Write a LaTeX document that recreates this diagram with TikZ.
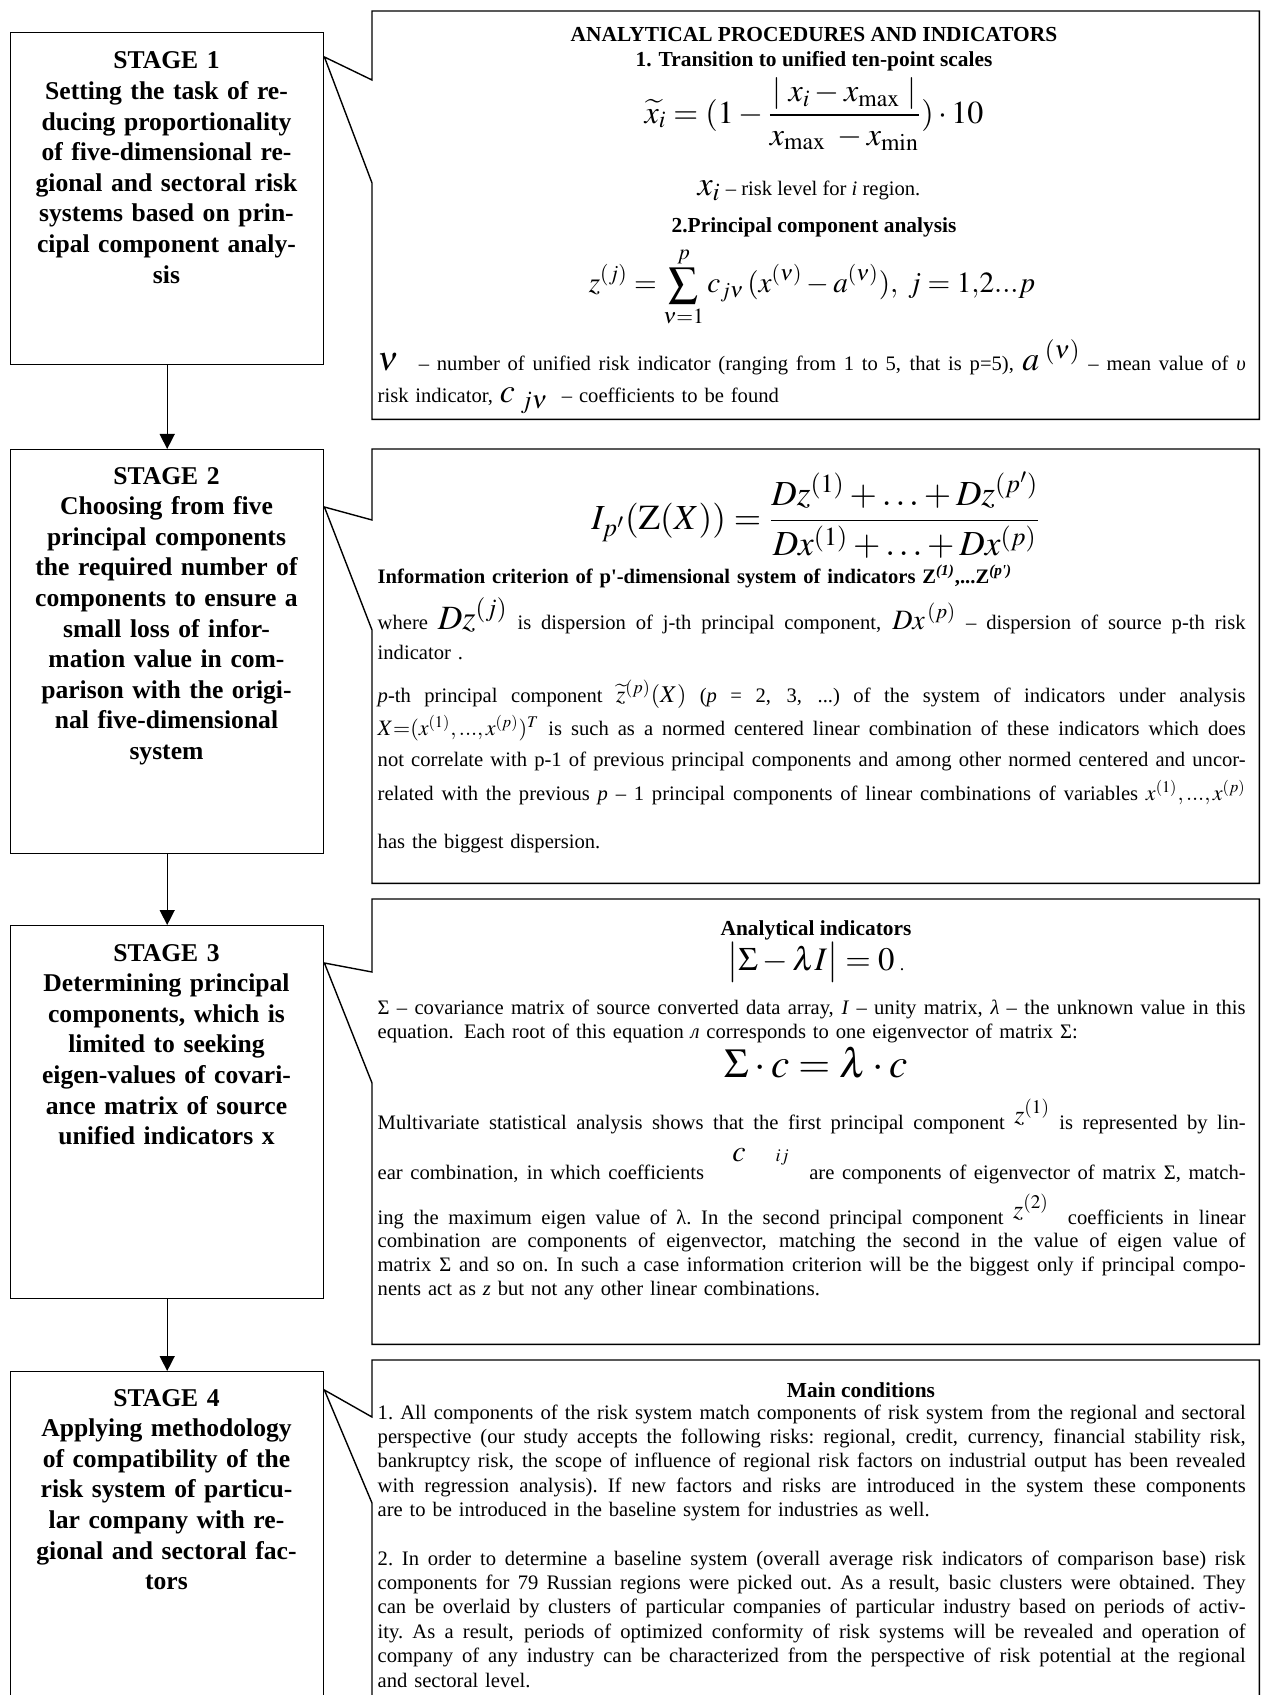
\documentclass[tikz,border=0pt]{standalone}
\usepackage{mathptmx}
\usepackage[no-math]{fontspec}
\setmainfont{Liberation Serif}
\usepackage{tikz}
\usetikzlibrary{arrows.meta}

\newcommand{\bigmath}[1]{{\fontsize{17}{17}\selectfont$#1$}}
\newcommand{\jline}[1]{\leavevmode\hbox to 434pt{\spaceskip=0.25em plus 1em minus 0.1em\xspaceskip=\spaceskip\relax #1}}

\tikzset{
  stagebox/.style={draw, minimum width=156.5pt, anchor=north west, inner sep=0pt},
  stagetext/.style={text width=150pt, align=center, anchor=base, inner sep=0pt,
    font=\fontsize{12.8}{15.3}\selectfont\bfseries},
  infobox/.style={minimum width=443pt, anchor=north west, inner sep=0pt},
  infohead/.style={inner sep=0pt, font=\fontsize{10.7}{12}\selectfont\bfseries},
  infotext/.style={text width=434pt, align=left, anchor=base west, inner sep=0pt,
    font=\fontsize{10.3}{12.2}\selectfont},
  formula/.style={inner sep=0pt},
  stagearrow/.style={-{Triangle[length=7.5pt,width=7.5pt]}}
}

\begin{document}
\begin{tikzpicture}[x=0.5pt, y=-0.5pt, line width=0.7pt]
\useasboundingbox (0,0) rectangle (1262,1695);

% stages
\node [stagebox, minimum height=166pt] (stage1) at (10,32) {};
\node [stagebox, minimum height=202pt] (stage2) at (10,449) {};
\node [stagebox, minimum height=186.5pt] (stage3) at (10,925) {};
\node [stagebox, minimum height=163pt] (stage4) at (10,1371) {};

\node [stagetext] (s1text) at (166.5,69) {STAGE 1\\Setting the task of re-\\ducing proportionality\\of five-dimensional re-\\gional and sectoral risk\\systems based on prin-\\cipal component analy-\\sis};
\node [stagetext] (s2text) at (166.5,484) {STAGE 2\\Choosing from five\\principal components\\the required number of\\components to ensure a\\small loss of infor-\\mation value in com-\\parison with the origi-\\nal five-dimensional\\system};
\node [stagetext] (s3text) at (166.5,961) {STAGE 3\\Determining principal\\components, which is\\limited to seeking\\eigen-values of covari-\\ance matrix of source\\unified indicators x};
\node [stagetext] (s4text) at (166.5,1406) {STAGE 4\\Applying methodology\\of compatibility of the\\risk system of particu-\\lar company with re-\\gional and sectoral fac-\\tors};

\draw [stagearrow] (stage1.south) -- (stage2.north);
\draw [stagearrow] (stage2.south) -- (stage3.north);
\draw [stagearrow] (stage3.south) -- (stage4.north);

% callout boxes
\node [infobox, minimum height=203.5pt] (info1) at (372,11) {};
\node [infobox, minimum height=216.5pt] (info2) at (372,449) {};
\node [infobox, minimum height=222pt] (info3) at (372,899) {};
\node [infobox, minimum height=168.5pt] (info4) at (372,1360) {};

\draw (info1.north west) -- (info1.north east) -- (info1.south east) -- (info1.south west)
  -- ([yshift=-86pt]info1.north west) -- ([yshift=-12.5pt]stage1.north east) -- ([yshift=-34.5pt]info1.north west) -- cycle;
\draw (info2.north west) -- (info2.north east) -- (info2.south east) -- (info2.south west)
  -- ([yshift=-90.5pt]info2.north west) -- ([yshift=-29pt]stage2.north east) -- ([yshift=-35.5pt]info2.north west) -- cycle;
\draw (info3.north west) -- (info3.north east) -- (info3.south east) -- (info3.south west)
  -- ([yshift=-92pt]info3.north west) -- ([yshift=-19pt]stage3.north east) -- ([yshift=-36.5pt]info3.north west) -- cycle;
\draw (info4.north west) -- (info4.north east) -- (info4.south east) -- (info4.south west)
  -- ([yshift=-71.5pt]info4.north west) -- ([yshift=-9.5pt]stage4.north east) -- ([yshift=-28.5pt]info4.north west) -- cycle;

% box 1
\node [infohead] (head1) at (814,35) {ANALYTICAL PROCEDURES AND INDICATORS};
\node [infohead] (head1a) at (814,61) {1. Transition to unified ten-point scales};
\node [formula] (scale) at (814,114) {\fontsize{16}{16}\selectfont$\displaystyle \widetilde{x}_i = (1-\frac{|\;x_i - x_{\max}\;|}{x_{\max}\; - x_{\min}})\cdot 10$};
\node [formula, font=\fontsize{10.3}{12}\selectfont] (xi) at (809,191) {\bigmath{x_i} – risk level for \textit{i} region.};
\node [infohead] (head1b) at (814,227) {2.Principal component analysis};
\node [formula] (pca) at (812,287) {\fontsize{14.6}{15}\selectfont$\displaystyle z^{(j)} = \sum_{\nu=1}^{p} c_{j\nu}\,(x^{(\nu)} - a^{(\nu)}),\; j = 1{,}2...p$};
\node [infotext] (nu) at (377,371) {\jline{\bigmath{\nu}\quad – number of unified risk indicator (ranging from 1 to 5, that is p=5), \bigmath{a^{\;(\nu)}} – mean value of \textit{υ}}};
\node [infotext] (coef) at (377,403) {risk indicator, \bigmath{c_{\;j\nu}} \ – coefficients to be found};

% box 2
\node [formula] (crit) at (816,515) {\fontsize{17.6}{17.6}\selectfont$\displaystyle I_{p'}(\mathrm{Z}(X)) = \frac{Dz^{(1)} + \ldots + Dz^{(p')}}{Dx^{(1)} + \ldots + Dx^{(p)}}$};
\node [infotext] (crittxt) at (377,583) {\textbf{Information criterion of p\textquotesingle-dimensional system of indicators Z\textsuperscript{\textit{(1)}},...Z\textsuperscript{\textit{(p\textquotesingle)}}}};
\node [infotext] (where) at (377,629) {\jline{where \bigmath{Dz^{(j)}} is dispersion of  j-th principal component, {\fontsize{14}{14}\selectfont$Dx^{\,(p)}$} – dispersion of source p-th risk}};
\node [infotext] (ind) at (377,659) {indicator .};
\node [infotext] (pth) at (377,702) {\jline{\textit{p}-th principal component {\fontsize{12}{12}\selectfont$\widetilde{z}^{(p)}(X)$} (\textit{p} = 2, 3, ...) of the system of indicators under analysis}};
\node [infotext] (xvec) at (377,735) {\jline{{\fontsize{11}{11}\selectfont$X{=}(x^{(1)},...,x^{(p)})^T$} is such as a normed centered linear combination of these indicators which does}};
\node [infotext] (corr) at (377,766) {\jline{not correlate with p-1 of previous principal components and among other normed centered and uncor-}};
\node [infotext] (rel) at (377,800) {\jline{related with the previous \textit{p} – 1 principal components of linear combinations of variables {\fontsize{11}{11}\selectfont$x^{(1)},...,x^{(p)}$}}};
\node [infotext] (disp) at (377,848) {has the biggest dispersion.};

% box 3
\node [infohead] (head3) at (816,930) {Analytical indicators};
\node [formula] (det) at (816,962) {\fontsize{16.4}{16.4}\selectfont$\bigl|\Sigma - \lambda I\bigr| = 0$\,{\fontsize{9}{9}\selectfont .}};
\node [infotext, font=\fontsize{10.3}{12}\selectfont] (sigma) at (377,1014) {\jline{Σ – covariance matrix of source converted data array, \textit{I} – unity matrix, \textit{λ} – the unknown value in this}\\equation.  Each root of this equation \textit{л} corresponds to one  eigenvector of matrix Σ:};
\node [formula] (eig) at (816,1063) {\fontsize{20.5}{20.5}\selectfont$\Sigma\cdot c = \lambda\cdot c$};
\node [infotext] (multi) at (377,1129) {\jline{Multivariate statistical analysis shows that the first principal component \raisebox{3pt}{\fontsize{13}{13}\selectfont$z^{(1)}$} is represented by lin-}};
\node [infotext] (lin) at (377,1179) {\jline{ear combination, in which coefficients \quad\raisebox{9pt}{\fontsize{15}{15}\selectfont$c$\quad{\fontsize{9}{9}\selectfont$ij$}}\quad are components of eigenvector of matrix Σ, match-}};
\node [infotext] (maxv) at (377,1224) {\jline{ing the maximum eigen value of  λ. In the second principal component \raisebox{3pt}{\fontsize{13}{13}\selectfont$z^{(2)}$} \ coefficients in linear}};
\node [infotext] (comb) at (377,1247) {\jline{combination are components of eigenvector, matching the second in the value of eigen value of}\\\jline{matrix Σ and so on. In such a case information criterion will be the biggest only if principal compo-}\\nents act as \textit{z} but not any other linear combinations.};

% box 4
\node [infohead] (head4) at (861,1390) {Main conditions};
\node [infotext] (cond1) at (377,1419) {\jline{1. All components of the risk system match components of risk system from the regional and sectoral}\\\jline{perspective (our study accepts the following risks: regional, credit, currency, financial stability risk,}\\\jline{bankruptcy risk, the scope of influence of regional risk factors on industrial output has been revealed}\\\jline{with regression analysis). If new factors and risks are introduced in the system these components}\\are to be introduced in the baseline system for industries as well.};
\node [infotext] (cond2) at (377,1565) {\jline{2. In order to determine a baseline system (overall average risk indicators of comparison base) risk}\\\jline{components for 79 Russian regions were picked out. As a result, basic clusters were obtained. They}\\\jline{can be overlaid by clusters of particular companies of particular industry based on periods of activ-}\\\jline{ity. As a result, periods of optimized conformity of risk systems will be revealed and operation of}\\\jline{company of any industry can be characterized from the perspective of risk potential at the regional}\\and sectoral level.};
\end{tikzpicture}
\end{document}
